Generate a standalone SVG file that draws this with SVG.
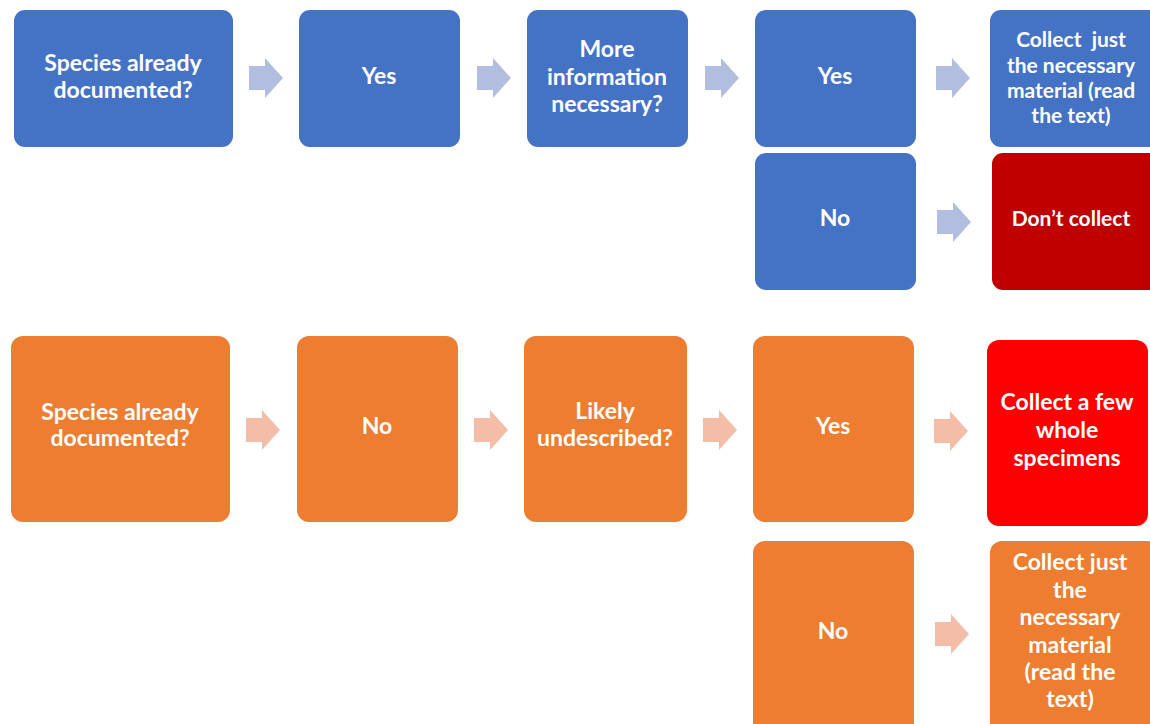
<svg xmlns="http://www.w3.org/2000/svg" width="1150" height="724" viewBox="0 0 1150 724">
<style>
.b{fill:#4472C4}
.dr{fill:#C00000}
.o{fill:#ED7D31}
.r{fill:#FF0000}
.ab{fill:#B1BEE0}
.ao{fill:#F4BDA8}
text{font-family:Lato,"Liberation Sans",sans-serif;font-weight:bold;fill:#FFFFFF;text-anchor:middle;font-size:23px}
.s{font-size:21px}
.pre{white-space:pre}
</style>
<rect width="1150" height="724" fill="#FFFFFF"/>
<defs>
<path id="arr" d="M0,8 H16 V0 L34,20 L16,40 V32 H0 Z"/>
</defs>
<g id="connectors">
<use href="#arr" class="ab" x="249" y="58"/>
<use href="#arr" class="ab" x="477" y="58"/>
<use href="#arr" class="ab" x="705" y="58"/>
<use href="#arr" class="ab" x="936" y="58"/>
<use href="#arr" class="ab" x="937" y="202"/>
<use href="#arr" class="ao" x="246" y="410"/>
<use href="#arr" class="ao" x="474" y="410"/>
<use href="#arr" class="ao" x="703" y="410"/>
<use href="#arr" class="ao" x="934" y="411"/>
<use href="#arr" class="ao" x="935" y="614"/>
</g>
<g id="t1"><rect class="b" x="14" y="10" width="219" height="137" rx="11"/><text x="123" y="71">Species already</text><text x="123" y="98">documented?</text></g>
<g id="t2"><rect class="b" x="299" y="10" width="161" height="137" rx="11"/><text x="379" y="84">Yes</text></g>
<g id="t3"><rect class="b" x="527" y="10" width="161" height="137" rx="11"/><text x="607" y="57">More</text><text x="607" y="85">information</text><text x="607" y="112">necessary?</text></g>
<g id="t4"><rect class="b" x="755" y="10" width="161" height="137" rx="11"/><text x="835" y="84">Yes</text></g>
<g id="t5"><rect class="b" x="990" y="10" width="170" height="137" rx="11"/><text class="s pre" x="1071" y="47">Collect  just</text><text class="s" x="1071" y="73">the necessary</text><text class="s" x="1071" y="98">material (read</text><text class="s" x="1071" y="123">the text)</text></g>
<g id="t6"><rect class="b" x="755" y="153" width="161" height="137" rx="11"/><text x="835" y="226">No</text></g>
<g id="t7"><rect class="dr" x="992" y="153" width="168" height="137" rx="11"/><text class="s" x="1071" y="226">Don’t collect</text></g>
<g id="b1"><rect class="o" x="11" y="336" width="219" height="186" rx="12"/><text x="120" y="420">Species already</text><text x="120" y="446">documented?</text></g>
<g id="b2"><rect class="o" x="297" y="336" width="161" height="186" rx="12"/><text x="377" y="434">No</text></g>
<g id="b3"><rect class="o" x="524" y="336" width="163" height="186" rx="12"/><text x="605" y="419">Likely</text><text x="605" y="446">undescribed?</text></g>
<g id="b4"><rect class="o" x="753" y="336" width="161" height="186" rx="12"/><text x="833" y="434">Yes</text></g>
<g id="b5"><rect class="r" x="987" y="340" width="161" height="186" rx="12"/><text x="1067" y="410">Collect a few</text><text x="1067" y="438">whole</text><text x="1067" y="466">specimens</text></g>
<g id="b6"><rect class="o" x="753" y="541" width="161" height="200" rx="12"/><text x="833" y="639">No</text></g>
<g id="b7"><rect class="o" x="990" y="541" width="170" height="200" rx="12"/><text x="1070" y="570">Collect just</text><text x="1070" y="598">the</text><text x="1070" y="625">necessary</text><text x="1070" y="653">material</text><text x="1070" y="680">(read the</text><text x="1070" y="707">text)</text></g>
</svg>
